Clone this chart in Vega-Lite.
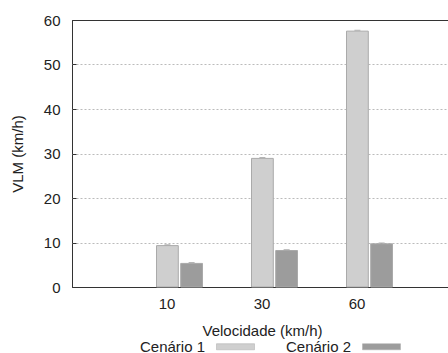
{
  "$schema": "https://vega.github.io/schema/vega-lite/v6.json",
  "width": 380,
  "height": 267,
  "autosize": "none",
  "padding": {"left": 72, "top": 20, "right": 0, "bottom": 66},
  "background": "white",
  "config": {
    "font": "Liberation Sans",
    "view": {"stroke": "#333", "strokeWidth": 1},
    "axis": {"labelFont": "Liberation Sans", "titleFont": "Liberation Sans", "labelFontSize": 15, "titleFontSize": 15, "titleFontWeight": "normal", "labelColor": "#222", "titleColor": "#222", "domain": false}
  },
  "data": {
    "values": [
      {"vel": "10", "cen": "Cenário 1", "v": 9.3, "hi": 9.5},
      {"vel": "10", "cen": "Cenário 2", "v": 5.3, "hi": 5.5},
      {"vel": "30", "cen": "Cenário 1", "v": 28.9, "hi": 29.1},
      {"vel": "30", "cen": "Cenário 2", "v": 8.2, "hi": 8.4},
      {"vel": "60", "cen": "Cenário 1", "v": 57.5, "hi": 57.7},
      {"vel": "60", "cen": "Cenário 2", "v": 9.7, "hi": 9.9}
    ]
  },
  "encoding": {
    "x": {
      "field": "vel", "type": "nominal", "sort": ["10", "30", "60"],
      "scale": {"paddingInner": 0, "paddingOuter": 0.5},
      "axis": {"title": "Velocidade (km/h)", "labelAngle": 0, "ticks": false, "grid": false, "labelPadding": 9, "titlePadding": 12}
    },
    "xOffset": {"field": "cen", "type": "nominal", "scale": {"range": [37, 83], "paddingInner": 0.1}}
  },
  "layer": [
    {
      "mark": {"type": "bar", "stroke": "#aaa", "strokeWidth": 1},
      "encoding": {
        "y": {
          "field": "v", "type": "quantitative",
          "scale": {"domain": [0, 60], "nice": false},
          "axis": {
            "title": "VLM (km/h)",
            "values": [0, 5, 10, 15, 20, 25, 30, 35, 40, 45, 50, 55, 60],
            "labelExpr": "datum.value % 10 === 0 ? datum.label : ''",
            "tickSize": -4, "tickColor": "#333",
            "gridDash": {"condition": {"test": "datum.value == 0 || datum.value == 60", "value": []}, "value": [2, 2]},
            "gridColor": {"condition": {"test": "datum.value == 0 || datum.value == 60", "value": "#333"}, "value": "#bbb"},
            "labelPadding": 16, "titlePadding": 18
          }
        },
        "fill": {
          "field": "cen", "type": "nominal",
          "scale": {"range": ["#cfcfcf", "#9c9c9c"]},
          "legend": {
            "orient": "none", "legendX": 68, "legendY": 307, "direction": "horizontal",
            "title": null,
            "symbolType": "M-1,-0.16H1V0.16H-1Z", "symbolSize": 1444,
            "symbolStrokeColor": "#aaa", "symbolStrokeWidth": 0.5,
            "labelFontSize": 15, "labelColor": "#222", "labelFont": "Liberation Sans",
            "labelOffset": -115, "symbolOffset": 76, "columnPadding": 30
          }
        }
      }
    },
    {
      "mark": {"type": "tick", "color": "#999", "size": 6, "thickness": 1},
      "encoding": {"y": {"field": "hi", "type": "quantitative"}}
    }
  ]
}
